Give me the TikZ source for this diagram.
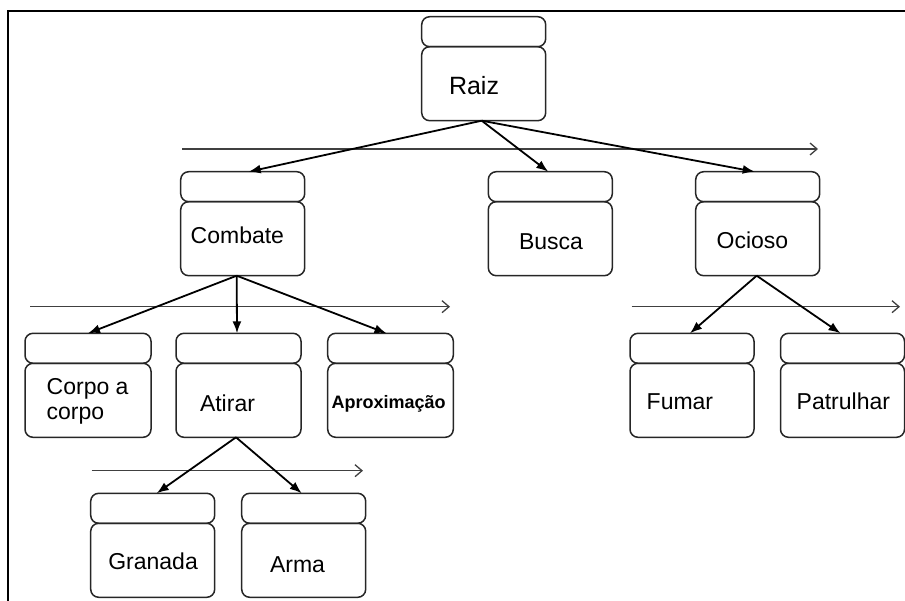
\documentclass[tikz,border=0pt]{standalone}
\usepackage{fontspec}
\setmainfont{Liberation Sans}
\usetikzlibrary{arrows.meta,calc}

\tikzset{
  hdr/.style={draw=black!85, line width=1.5pt, rounded corners=8pt,
    minimum width=124pt, minimum height=30pt, inner sep=0pt, outer sep=0pt,
    anchor=north west},
  body/.style={hdr, minimum height=74pt},
  lbl/.style={anchor=base west, inner sep=0pt, outer sep=0pt,
    font=\fontsize{23pt}{25pt}\selectfont},
  conn/.style={draw=black, line width=1.8pt, -{Latex[length=12pt,width=9pt]}},
  levelline/.style={draw=black!75, line width=1.3pt,
    -{Straight Barb[length=7pt,width=12pt,line width=1.3pt]}},
  frameline/.style={draw=black, line width=2.5pt}
}

\begin{document}
\begin{tikzpicture}[x=1pt,y=-1pt]
  \useasboundingbox (0,0) rectangle (905,601);

  % outer frame (top and left edges)
  \coordinate (fA) at (905,11);
  \coordinate (fB) at (8,11);
  \coordinate (fC) at (8,601);
  \draw[frameline] (fA) -- (fB) -- (fC);

  % state boxes: header on top, body below
  \node[hdr]  (raizH)    at (421.7,16.7)  {};
  \node[body] (raiz)     at (421.7,46.7)  {};

  \node[hdr]  (combateH) at (180.7,171.7) {};
  \node[body] (combate)  at (180.7,201.7) {};
  \node[hdr]  (buscaH)   at (488.3,171.7) {};
  \node[body] (busca)    at (488.3,201.7) {};
  \node[hdr]  (ociosoH)  at (695.7,171.7) {};
  \node[body] (ocioso)   at (695.7,201.7) {};

  \node[hdr, minimum width=126pt]  (corpoH)  at (25,333.3)  {};
  \node[body, minimum width=126pt] (corpo)   at (25,363.3)  {};
  \node[hdr, minimum width=125pt]  (atirarH) at (176,333.3) {};
  \node[body, minimum width=125pt] (atirar)  at (176,363.3) {};
  \node[hdr, minimum width=125.6pt]  (aproxH) at (327.7,333.3) {};
  \node[body, minimum width=125.6pt] (aprox)  at (327.7,363.3) {};

  \node[hdr]  (fumarH)   at (630,333.3) {};
  \node[body] (fumar)    at (630,363.3) {};
  \node[hdr]  (patrulharH) at (780.5,333.3) {};
  \node[body] (patrulhar)  at (780.5,363.3) {};

  \node[hdr]  (granadaH) at (90.7,493.3) {};
  \node[body] (granada)  at (90.7,523.3) {};
  \node[hdr]  (armaH)    at (241.7,493.3) {};
  \node[body] (arma)     at (241.7,523.3) {};

  % labels
  \node[lbl, font=\fontsize{25pt}{27pt}\selectfont] (raizT) at (449,95) {Raiz};
  \node[lbl] (combateT) at (190.7,243.3) {Combate};
  \node[lbl] (buscaT)   at (519,250) {Busca};
  \node[lbl] (ociosoT)  at (716.7,248.3) {Ocioso};
  \node[lbl] (corpoT1)  at (46.7,395) {Corpo a};
  \node[lbl] (corpoT2)  at (46.7,420) {corpo};
  \node[lbl] (atirarT)  at (200,411.7) {Atirar};
  \node[lbl, font=\fontsize{18pt}{20pt}\selectfont\bfseries] (aproxT) at (331.7,408.3) {Aproximação};
  \node[lbl] (fumarT)     at (646.7,409.3) {Fumar};
  \node[lbl] (patrulharT) at (796.7,409.3) {Patrulhar};
  \node[lbl] (granadaT) at (108.3,569.3) {Granada};
  \node[lbl] (armaT)    at (270,572.7) {Arma};

  % level order lines
  \coordinate (l1a) at (182,149);   \coordinate (l1b) at (818,149);
  \coordinate (l2a) at (30,306.7);  \coordinate (l2b) at (450,306.7);
  \coordinate (l3a) at (91.7,470.7);\coordinate (l3b) at (363,470.7);
  \coordinate (l4a) at (631.7,306.7);\coordinate (l4b) at (900,306.7);
  \draw[levelline] (l1a) -- (l1b);
  \draw[levelline] (l2a) -- (l2b);
  \draw[levelline] (l3a) -- (l3b);
  \draw[levelline] (l4a) -- (l4b);

  % transitions
  \coordinate (raizO)    at ([xshift=-2pt]raiz.south);
  \coordinate (combateO) at ([xshift=-6pt]combate.south);
  \coordinate (atirarO)  at ([xshift=-2.5pt]atirar.south);
  \coordinate (ociosoO)  at ([xshift=-1pt]ocioso.south);

  \draw[conn] (raizO) -- ([xshift=6pt]combateH.north);
  \draw[conn] (raizO) -- ([xshift=-2pt]buscaH.north);
  \draw[conn] (raizO) -- ([xshift=-3pt]ociosoH.north);

  \draw[conn] (combateO) -- (corpoH.north);
  \draw[conn] (combateO) -- ([xshift=-1.5pt]atirarH.north);
  \draw[conn] (combateO) -- ([xshift=-4pt]aproxH.north);

  \draw[conn] (atirarO) -- ([xshift=4pt]granadaH.north);
  \draw[conn] (atirarO) -- ([xshift=-2pt]armaH.north);

  \draw[conn] (ociosoO) -- ([xshift=-2pt]fumarH.north);
  \draw[conn] (ociosoO) -- ([xshift=-2pt]patrulharH.north);
\end{tikzpicture}
\end{document}
